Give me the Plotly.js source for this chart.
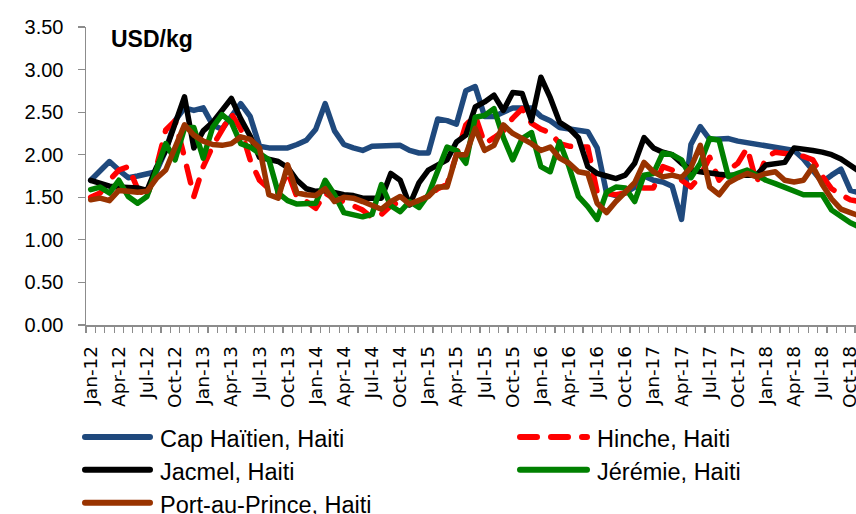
<!DOCTYPE html>
<html>
<head>
<meta charset="utf-8">
<script src="https://cdn.plot.ly/plotly-3.0.1.min.js"></script>
<style>
  html, body { margin: 0; padding: 0; background: #fff; }
  #chart { width: 856px; height: 514px; }
  .scatterlayer .js-line { stroke-linecap: round; stroke-linejoin: round; }
  .shapelayer path { stroke-linecap: round; }
</style>
</head>
<body>
<div id="chart"></div>
<script>
const months = [
  "Jan-12","Feb-12","Mar-12","Apr-12","May-12","Jun-12","Jul-12","Aug-12","Sep-12","Oct-12","Nov-12","Dec-12",
  "Jan-13","Feb-13","Mar-13","Apr-13","May-13","Jun-13","Jul-13","Aug-13","Sep-13","Oct-13","Nov-13","Dec-13",
  "Jan-14","Feb-14","Mar-14","Apr-14","May-14","Jun-14","Jul-14","Aug-14","Sep-14","Oct-14","Nov-14","Dec-14",
  "Jan-15","Feb-15","Mar-15","Apr-15","May-15","Jun-15","Jul-15","Aug-15","Sep-15","Oct-15","Nov-15","Dec-15",
  "Jan-16","Feb-16","Mar-16","Apr-16","May-16","Jun-16","Jul-16","Aug-16","Sep-16","Oct-16","Nov-16","Dec-16",
  "Jan-17","Feb-17","Mar-17","Apr-17","May-17","Jun-17","Jul-17","Aug-17","Sep-17","Oct-17","Nov-17","Dec-17",
  "Jan-18","Feb-18","Mar-18","Apr-18","May-18","Jun-18","Jul-18","Aug-18","Sep-18","Oct-18","Nov-18"
];

const tickLabels = [
  "Jan-12","Apr-12","Jul-12","Oct-12","Jan-13","Apr-13","Jul-13","Oct-13","Jan-14","Apr-14","Jul-14","Oct-14",
  "Jan-15","Apr-15","Jul-15","Oct-15","Jan-16","Apr-16","Jul-16","Oct-16","Jan-17","Apr-17","Jul-17","Oct-17",
  "Jan-18","Apr-18","Jul-18","Oct-18"
];

const seriesNames = ["Cap Haïtien, Haiti","Hinche, Haiti","Jacmel, Haiti","Jérémie, Haiti","Port-au-Prince, Haiti"];

const capHaitien = [
  1.70,1.82,1.92,1.82,1.73,1.75,1.78,1.80,2.05,2.40,
  2.55,2.52,2.55,2.35,2.30,2.45,2.60,2.45,2.10,2.08,
  2.08,2.08,2.12,2.17,2.30,2.60,2.28,2.12,2.08,2.05,
  2.10,2.10,2.10,2.11,2.05,2.02,2.02,2.42,2.40,2.36,
  2.75,2.80,2.45,2.45,2.50,2.55,2.55,2.55,2.45,2.40,
  2.32,2.30,2.29,2.27,2.08,1.55,1.52,1.55,1.62,1.75,
  1.70,1.68,1.63,1.24,2.12,2.33,2.18,2.18,2.19,2.16,
  2.14,2.12,2.10,2.08,2.06,2.05,1.95,1.82,1.68,1.76,
  1.83,1.58,1.55
];

const hinche = [
  1.50,1.55,1.70,1.82,1.86,1.60,1.50,1.85,2.29,2.40,
  1.97,1.51,1.86,2.10,2.29,2.48,2.30,1.94,1.70,1.60,
  1.55,1.80,1.50,1.45,1.37,1.55,1.48,1.45,1.40,1.35,
  1.26,1.30,1.40,1.45,1.42,1.45,1.52,1.60,1.65,2.00,
  2.35,2.46,2.13,2.20,2.28,2.43,2.54,2.37,2.30,2.26,
  2.13,2.10,2.09,2.09,1.56,1.55,1.53,1.55,1.62,1.61,
  1.61,1.86,1.82,1.70,1.62,1.75,1.97,1.70,1.82,1.90,
  2.08,1.67,1.97,2.03,2.02,2.00,1.98,1.94,1.75,1.60,
  1.53,1.47,1.45
];

const jacmel = [
  1.70,1.67,1.63,1.62,1.62,1.61,1.58,1.85,2.05,2.35,
  2.68,2.08,2.28,2.38,2.52,2.66,2.42,2.22,1.97,1.95,
  1.92,1.85,1.70,1.60,1.57,1.58,1.55,1.53,1.52,1.49,
  1.49,1.49,1.78,1.70,1.41,1.67,1.82,1.88,1.94,2.15,
  2.23,2.56,2.62,2.70,2.52,2.73,2.72,2.40,2.91,2.67,
  2.38,2.31,2.20,1.86,1.78,1.75,1.72,1.76,1.90,2.20,
  2.08,2.03,2.00,1.90,1.82,1.80,1.78,1.77,1.76,1.76,
  1.76,1.76,1.88,1.90,1.91,2.08,2.07,2.05,2.03,2.00,
  1.95,1.88,1.80
];

const jeremie = [
  1.59,1.62,1.55,1.70,1.51,1.43,1.51,1.80,2.13,1.94,
  2.31,2.32,1.96,2.32,2.47,2.38,2.13,2.09,2.02,1.94,
  1.55,1.46,1.42,1.43,1.43,1.70,1.53,1.32,1.30,1.27,
  1.30,1.65,1.40,1.33,1.45,1.38,1.53,1.80,2.09,2.05,
  1.90,2.44,2.46,2.54,2.20,1.94,2.19,2.26,1.86,1.80,
  2.15,1.86,1.51,1.39,1.24,1.56,1.62,1.61,1.45,1.76,
  1.78,2.02,2.00,1.94,1.73,1.90,2.19,2.17,1.74,1.78,
  1.82,1.76,1.70,1.66,1.62,1.58,1.53,1.53,1.53,1.35,
  1.27,1.20,1.15
];

const portAuPrince = [
  1.47,1.49,1.46,1.58,1.57,1.56,1.57,1.72,1.82,2.10,
  2.35,2.23,2.16,2.12,2.11,2.13,2.21,2.18,2.08,1.53,
  1.49,1.88,1.55,1.53,1.52,1.60,1.45,1.50,1.49,1.45,
  1.40,1.36,1.45,1.51,1.42,1.47,1.51,1.62,1.62,2.00,
  2.00,2.31,2.05,2.11,2.35,2.25,2.19,2.13,2.05,2.09,
  1.96,1.90,1.80,1.78,1.43,1.32,1.45,1.55,1.67,1.91,
  1.80,1.74,1.76,1.73,1.85,2.11,1.62,1.53,1.67,1.73,
  1.78,1.74,1.78,1.80,1.70,1.68,1.70,1.86,1.65,1.48,
  1.36,1.32,1.28
];

const allSeries = [capHaitien, hinche, jacmel, jeremie, portAuPrince];
const colors = ["#1F497D", "#FF0000", "#000000", "#008000", "#993300"];
const dashes = ["solid", "17px,14px", "solid", "solid", "solid"];

const xIdx = months.map((m, i) => i);
const tickVals = tickLabels.map(t => months.indexOf(t));

const traces = allSeries.map((ys, k) => ({
  x: xIdx, y: ys, type: "scatter", mode: "lines", name: seriesNames[k],
  text: months, hovertemplate: "%{text}: %{y:.2f}<extra>%{fullData.name}</extra>",
  line: { color: colors[k], width: 5.5, dash: dashes[k] }, showlegend: false
}));

// layout geometry (pixels)
const W = 856, H = 514;
const mL = 86, mR = 0, mT = 26.7, mB = H - 325;
const plotW = W - mL - mR, plotH = H - mT - mB;
const px2x = X => (X - mL) / plotW;
const px2y = Y => (H - mB - Y) / plotH;

const shapes = [];
const annotations = [{
  text: "<b>USD/kg</b>", xref: "paper", yref: "paper", x: px2x(109), y: px2y(39),
  xanchor: "left", yanchor: "middle", showarrow: false,
  font: { family: "Liberation Sans, Arial, sans-serif", size: 23, color: "#000" }
}];

// custom legend: two columns
const legPos = [
  { lx0: 85, lx1: 150, tx: 158, y: 437 },
  { lx0: 520, lx1: 587, tx: 595, y: 437 },
  { lx0: 85, lx1: 150, tx: 158, y: 470 },
  { lx0: 520, lx1: 587, tx: 595, y: 470 },
  { lx0: 85, lx1: 150, tx: 158, y: 503 }
];
seriesNames.forEach((name, k) => {
  const p = legPos[k];
  shapes.push({
    type: "line", xref: "paper", yref: "paper",
    x0: px2x(p.lx0), x1: px2x(p.lx1), y0: px2y(p.y), y1: px2y(p.y),
    line: { color: colors[k], width: 6, dash: dashes[k] }
  });
  annotations.push({
    text: name, xref: "paper", yref: "paper", x: px2x(p.tx), y: px2y(p.y + 2),
    xanchor: "left", yanchor: "middle", showarrow: false,
    font: { family: "Liberation Sans, Arial, sans-serif", size: 23.5, color: "#000" }
  });
});

const layout = {
  width: W, height: H,
  margin: { l: mL, r: mR, t: mT, b: mB, pad: 0 },
  paper_bgcolor: "#fff", plot_bgcolor: "#fff",
  showlegend: false,
  xaxis: {
    range: [-0.5, 81.6], fixedrange: true,
    tickmode: "array", tickvals: tickVals, ticktext: tickLabels,
    tickangle: -90, ticks: "", showgrid: false, zeroline: false,
    showline: true, linecolor: "#8c8c8c", linewidth: 1.5,
    tickfont: { family: "DejaVu Sans, sans-serif", size: 18.5, color: "#000" },
    ticklabelstandoff: 12, ticklabeloverflow: "allow",
    minor: { ticks: "outside", tick0: -0.5, dtick: 1, ticklen: 6, tickcolor: "#8c8c8c", tickwidth: 1.2, showgrid: false }
  },
  yaxis: {
    range: [0, 3.5], fixedrange: true, dtick: 0.5, tick0: 0, tickformat: ".2f",
    ticks: "outside", ticklen: 7, tickcolor: "#8c8c8c", tickwidth: 1.2,
    showline: true, linecolor: "#8c8c8c", linewidth: 1.5,
    showgrid: false, zeroline: false,
    tickfont: { family: "Liberation Sans, Arial, sans-serif", size: 20, color: "#000" },
    ticklabelstandoff: 10
  },
  shapes: shapes,
  annotations: annotations
};

Plotly.newPlot("chart", traces, layout, { displayModeBar: false, staticPlot: true });
</script>
</body>
</html>
